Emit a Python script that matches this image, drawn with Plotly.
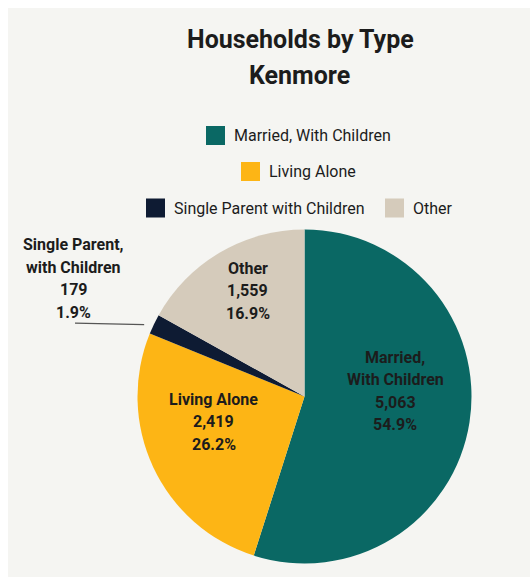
import math
import plotly.graph_objects as go

# ---- data ---------------------------------------------------------------
categories = ["Married, With Children", "Living Alone",
              "Single Parent with Children", "Other"]
slice_titles = [["Married,", "With Children"], ["Living Alone"],
                ["Single Parent,", "with Children"], ["Other"]]
households = [5063, 2419, 179, 1559]

# ---- style --------------------------------------------------------------
colors = ["#0a6864", "#fdb515", "#0e1b33", "#d5cbbb"]
PANEL = "#f5f5f2"
INK = "#1c1c1c"
FONT = "Roboto"

W, H = 530, 577
CX, CY, R = 304.5, 396.5, 167          # pie centre and radius (px)
LINE_GAP = 22.5                         # spacing of label lines (px)

# label placement: (angle nudge in degrees, radius fraction) or None = callout
placement = [(-12.3, 0.545), (9.5, 0.565), None, (2.2, 0.72)]

# legend rows: list of (category index, swatch left x), row centre y
legend_rows = [([(0, 206)], 135.5), ([(1, 241)], 171.5),
               ([(2, 146), (3, 385)], 208)]


def paper(x, y):
    return x / W, 1 - y / H


total = sum(households)
shares = [v / total for v in households]

fig = go.Figure()

# panel background
fig.add_shape(type="rect", xref="paper", yref="paper",
              x0=8 / W, x1=1, y0=0, y1=1 - 8 / H,
              fillcolor=PANEL, line_width=0, layer="below")

dx0, dy1 = paper(CX - R, CY - R)
dx1, dy0 = paper(CX + R, CY + R)
fig.add_trace(go.Pie(
    labels=categories, values=households, sort=False,
    direction="clockwise", rotation=0,
    marker=dict(colors=colors, line=dict(width=0)),
    textinfo="none", hoverinfo="label+value+percent",
    showlegend=False,
    domain=dict(x=[dx0, dx1], y=[dy0, dy1]),
))

annotations = []


def add_text(x, y, text, size, weight=400, anchor="center"):
    ax, ay = paper(x, y)
    annotations.append(dict(
        x=ax, y=ay, xref="paper", yref="paper", text=text, showarrow=False,
        xanchor=anchor, yanchor="middle",
        font=dict(family=FONT, size=size, color=INK, weight=weight)))


def block(x, y, lines, size=16):
    n = len(lines)
    for i, ln in enumerate(lines):
        add_text(x, y + (i - (n - 1) / 2) * LINE_GAP, ln, size, 700)


# slice labels
cum = 0.0
for i, (val, share) in enumerate(zip(households, shares)):
    mid = (cum + share / 2) * 360
    cum += share
    lines = slice_titles[i] + [f"{val:,}", f"{share * 100:.1f}%"]
    if placement[i] is not None:
        nudge, frac = placement[i]
        a = math.radians(mid + nudge)
        x = CX + frac * R * math.sin(a)
        y = CY - frac * R * math.cos(a)
        block(x, y, lines)
    else:
        a = math.radians(mid)
        ex = CX + 1.065 * R * math.sin(a)
        ey = CY - 1.065 * R * math.cos(a) + 5
        lx = 75
        x0, y0 = paper(lx, ey - 1.5)
        x1, y1 = paper(ex, ey)
        fig.add_shape(type="line", xref="paper", yref="paper",
                      x0=x0, y0=y0, x1=x1, y1=y1,
                      line=dict(color="#555555", width=1.3))
        block(lx - 1.5, ey - 46, lines)

# title
add_text(300, 40, "Households by Type", 25, 700)
add_text(299, 75, "Kenmore", 25, 700)

# legend
SW = 19
for items, yc in legend_rows:
    for idx, xl in items:
        x0, y0 = paper(xl, yc + SW / 2)
        x1, y1 = paper(xl + SW, yc - SW / 2)
        fig.add_shape(type="rect", xref="paper", yref="paper",
                      x0=x0, x1=x1, y0=y0, y1=y1,
                      fillcolor=colors[idx], line_width=0)
        add_text(xl + SW + 7, yc, categories[idx], 16, 400, anchor="left")

fig.update_layout(
    width=W, height=H, autosize=False,
    margin=dict(l=0, r=0, t=0, b=0),
    paper_bgcolor="white", plot_bgcolor="white",
    annotations=annotations,
    font=dict(family=FONT),
)

fig.write_html("out.html", config={"displayModeBar": False})
